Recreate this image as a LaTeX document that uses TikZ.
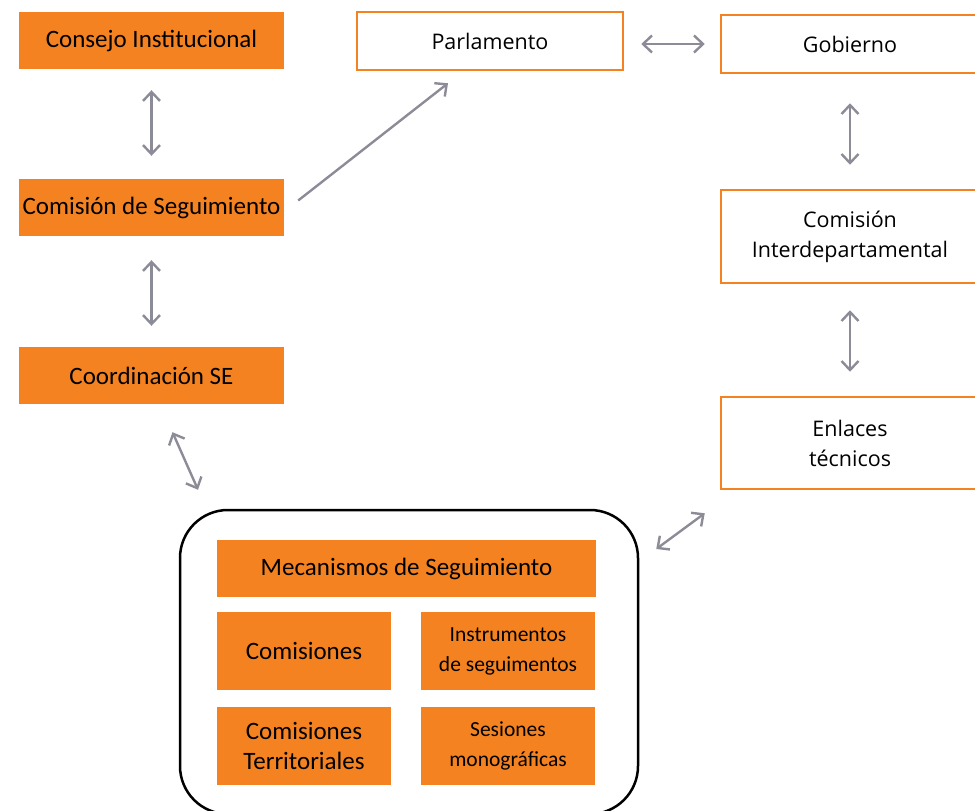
\documentclass[tikz,border=0pt]{standalone}
\usepackage{fontspec}
\setmainfont{Open Sans}
\newfontfamily\boxfont{Carlito}
\usetikzlibrary{positioning,arrows.meta,calc}
\definecolor{seorange}{HTML}{F58220}
\definecolor{segray}{HTML}{8C8C98}
\tikzset{
  obox/.style   ={fill=seorange, draw=none, inner sep=0pt, align=center,
                  font=\boxfont\fontsize{25}{30}\selectfont},
  osmall/.style ={obox, font=\boxfont\fontsize{21.5}{30}\selectfont},
  wbox/.style   ={draw=seorange, line width=2.5pt, fill=white, inner sep=0pt,
                  align=center, font=\fontsize{21.5}{30}\selectfont},
  link/.style   ={draw=segray, line width=2.4pt,
                  {Straight Barb[length=9pt,width=17pt]}-{Straight Barb[length=9pt,width=17pt]}},
  onelink/.style={draw=segray, line width=2.4pt, -{Straight Barb[length=9pt,width=17pt]}},
}
\begin{document}
\begin{tikzpicture}[x=1pt,y=-1pt]
  \useasboundingbox (0,0) rectangle (975,811);
  % --- left column ---
  \node[obox,minimum width=265pt,minimum height=57pt] (consejo) at (151.5,40.5) {Consejo Institucional};
  \node[obox,minimum width=265pt,minimum height=57pt] (comision) at (151.5,207.5) {Comisión de Seguimiento};
  \node[obox,minimum width=265pt,minimum height=57pt] (coord) at (151.5,375.5) {Coordinación SE};
  % --- top and right column ---
  \node[wbox,minimum width=266pt,minimum height=58pt] (parl) at (490,41) {Parlamento};
  \node[wbox,minimum width=258pt,minimum height=58pt] (gob) at (850,44) {Gobierno};
  \node[wbox,minimum width=258pt,minimum height=93pt] (cid) at (850,236.5) {Comisión\\Interdepartamental};
  \node[wbox,minimum width=258pt,minimum height=92pt] (enl) at (850,443) {Enlaces\\técnicos};
  % --- mechanisms group ---
  \node[draw=black,line width=2.5pt,rounded corners=48pt,minimum width=458pt,minimum height=304pt] (grupo) at (409,662) {};
  \node[obox,minimum width=379pt,minimum height=57pt] (mec) at (406.5,568.5) {Mecanismos de Seguimiento};
  \node[obox,minimum width=174pt,minimum height=78pt] (com) at (304,651) {Comisiones};
  \node[osmall,minimum width=174pt,minimum height=78pt] (instr) at (508,651) {Instrumentos\\de seguimentos};
  \node[obox,minimum width=174pt,minimum height=78pt] (comter) at (304,746) {Comisiones\\Territoriales};
  \node[osmall,minimum width=174pt,minimum height=78pt] (ses) at (508,746) {Sesiones\\monográficas};
  % --- connectors ---
  \draw[link,shorten <=21pt,shorten >=23pt] (consejo) -- (comision);
  \draw[link,shorten <=24pt,shorten >=21pt] (comision) -- (coord);
  \draw[link,shorten <=17pt,shorten >=15pt] (parl.east |- gob) -- (gob.west);
  \draw[link,shorten <=29pt,shorten >=24pt] (gob) -- (cid);
  \draw[link,shorten <=26pt,shorten >=24pt] (cid) -- (enl);
  \draw[onelink] ([xshift=14pt,yshift=7pt]comision.east) -- ([xshift=-42pt,yshift=-12pt]parl.south);
  \draw[link] ([xshift=21pt,yshift=-28pt]coord.south) -- ([xshift=-211pt,yshift=19pt]grupo.north);
  \draw[link] ([xshift=-15pt,yshift=-23pt]enl.south west) -- ([xshift=17pt,yshift=113pt]grupo.east);
\end{tikzpicture}
\end{document}
